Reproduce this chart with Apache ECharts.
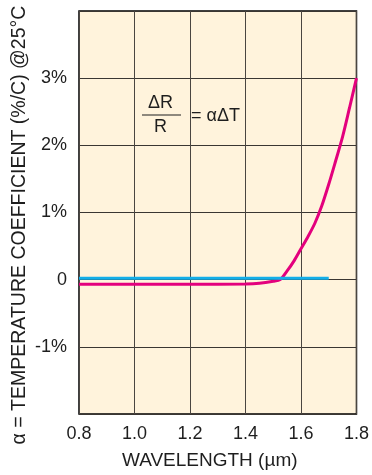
<!DOCTYPE html>
<html>
<head>
<meta charset="utf-8">
<script src="https://cdn.jsdelivr.net/npm/echarts@6/dist/echarts.min.js"></script>
<style>
  html, body { margin: 0; padding: 0; background: #ffffff; }
  #chart { width: 372px; height: 475px; }
</style>
</head>
<body>
<div id="chart"></div>
<script>
// Wavelength (µm) and temperature coefficient (%/°C) at 25°C
const magentaWavelength = [0.8, 1.0, 1.2, 1.4, 1.45, 1.5, 1.525, 1.55, 1.575, 1.6, 1.625, 1.65, 1.675, 1.7, 1.725, 1.75, 1.775, 1.8];
const magentaCoeff      = [-0.07, -0.07, -0.07, -0.065, -0.055, -0.025, 0.0, 0.13, 0.28, 0.46, 0.64, 0.84, 1.1, 1.42, 1.77, 2.13, 2.56, 3.0];
const cyanWavelength = [0.8, 1.7];
const cyanCoeff      = [0.02, 0.02];

const xTickValues = [0.8, 1.0, 1.2, 1.4, 1.6, 1.8];
const yTickLabels = { '-1': '-1%', '0': '0', '1': '1%', '2': '2%', '3': '3%' };

const pairs = (xs, ys) => xs.map((x, i) => [x, ys[i]]);

const FONT = 'Liberation Sans, Arial, sans-serif';
const INK = '#1e1e1e';
const chart = echarts.init(document.getElementById('chart'), null, { renderer: 'canvas' });

chart.setOption({
  animation: false,
  backgroundColor: '#ffffff',
  grid: {
    left: 79, right: 13, top: 11, bottom: 61,
    show: true,
    backgroundColor: '#fff3dc',
    borderColor: '#000000',
    borderWidth: 1.5
  },
  xAxis: {
    type: 'value',
    min: 0.8, max: 1.8, interval: 0.2,
    name: 'WAVELENGTH (µm)',
    nameLocation: 'middle',
    nameGap: 37,
    nameTextStyle: { fontFamily: FONT, fontSize: 19, color: INK, padding: [0, 16, 0, 0] },
    axisLine: { show: false },
    axisTick: { show: false },
    axisLabel: {
      margin: 11,
      fontFamily: FONT, fontSize: 18, color: INK,
      formatter: v => xTickValues.some(t => Math.abs(t - v) < 1e-6) ? v.toFixed(1) : ''
    },
    splitLine: { show: true, lineStyle: { color: '#4a4540', width: 1 } }
  },
  yAxis: {
    type: 'value',
    min: -2, max: 4, interval: 1,
    axisLine: { show: false },
    axisTick: { show: false },
    axisLabel: {
      margin: 12,
      fontFamily: FONT, fontSize: 18, color: INK,
      formatter: v => yTickLabels[String(Math.round(v))] || ''
    },
    splitLine: { show: true, lineStyle: { color: '#3a3632', width: 1 } }
  },
  graphic: [
    {
      type: 'text',
      x: 20, y: 225,
      rotation: Math.PI / 2,
      style: {
        text: 'α = TEMPERATURE COEFFICIENT (%/C) @25°C',
        fontFamily: FONT, fontSize: 19.5, fill: INK,
        align: 'center', verticalAlign: 'middle'
      }
    },
    {
      type: 'group',
      x: 140, y: 92,
      children: [
        { type: 'rect', shape: { x: 0, y: 0, width: 106, height: 46 }, style: { fill: '#fff3dc' } },
        { type: 'text', x: 20.5, y: 11, style: { text: 'ΔR', fontFamily: FONT, fontSize: 18, fill: INK, align: 'center', verticalAlign: 'middle' } },
        { type: 'line', shape: { x1: 2, y1: 23, x2: 41, y2: 23 }, style: { stroke: INK, lineWidth: 1.2 } },
        { type: 'text', x: 20.5, y: 35, style: { text: 'R', fontFamily: FONT, fontSize: 18, fill: INK, align: 'center', verticalAlign: 'middle' } },
        { type: 'text', x: 51, y: 24, style: { text: '= αΔT', fontFamily: FONT, fontSize: 18, fill: INK, align: 'left', verticalAlign: 'middle' } }
      ]
    }
  ],
  series: [
    {
      name: 'magenta',
      type: 'line',
      data: pairs(magentaWavelength, magentaCoeff),
      smooth: 0.3,
      showSymbol: false,
      lineStyle: { color: '#e3007d', width: 3 },
      z: 3
    },
    {
      name: 'cyan',
      type: 'line',
      data: pairs(cyanWavelength, cyanCoeff),
      showSymbol: false,
      lineStyle: { color: '#12aee9', width: 3 },
      z: 4
    }
  ]
});
</script>
</body>
</html>
